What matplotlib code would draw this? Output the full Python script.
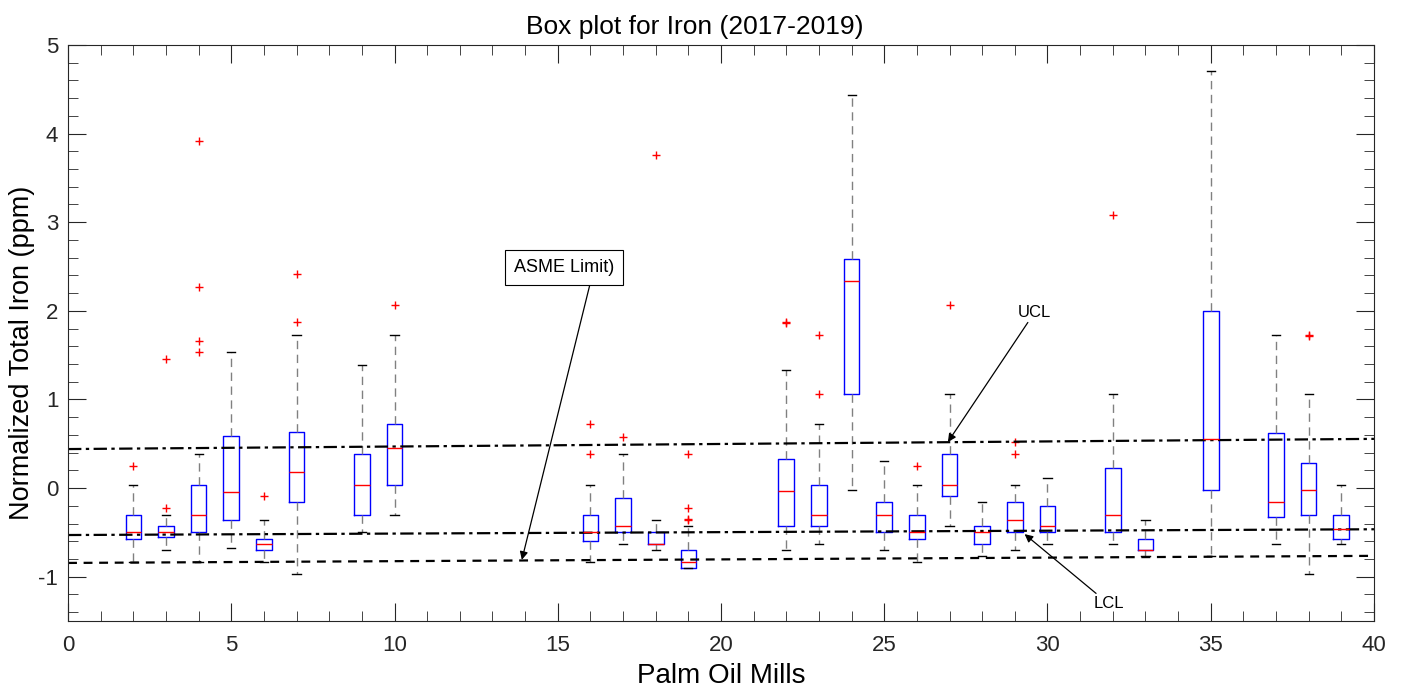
import numpy as np
import matplotlib.pyplot as plt
from matplotlib.ticker import MultipleLocator

plt.rcParams['font.family'] = ['Liberation Sans', 'DejaVu Sans']
plt.rcParams['axes.unicode_minus'] = False

# mill number and box statistics
mills = [2, 3, 4, 5, 6, 7, 9, 10, 16, 17, 18, 19, 22, 23, 24, 25, 26, 27,
         28, 29, 30, 32, 33, 35, 37, 38, 39]
whis_lo = [-0.84, -0.70, -0.84, -0.68, -0.84, -0.97, -0.50, -0.30, -0.84, -0.635,
           -0.70, -0.905, -0.70, -0.635, -0.026, -0.70, -0.84, -0.43,
           -0.77, -0.70, -0.635, -0.635, -0.77, -0.77, -0.635, -0.97, -0.635]
q1 = [-0.57, -0.55, -0.50, -0.36, -0.70, -0.16, -0.30, 0.04, -0.60, -0.50,
      -0.635, -0.905, -0.43, -0.43, 1.06, -0.50, -0.57, -0.094,
      -0.635, -0.50, -0.50, -0.50, -0.70, -0.026, -0.33, -0.30, -0.57]
med = [-0.50, -0.50, -0.30, -0.05, -0.635, 0.177, 0.04, 0.45, -0.50, -0.43,
       -0.635, -0.84, -0.03, -0.30, 2.34, -0.30, -0.50, 0.04,
       -0.50, -0.36, -0.43, -0.30, -0.70, 0.55, -0.16, -0.026, -0.466]
q3 = [-0.30, -0.43, 0.04, 0.59, -0.57, 0.635, 0.38, 0.72, -0.30, -0.11,
      -0.50, -0.70, 0.327, 0.04, 2.58, -0.16, -0.30, 0.38,
      -0.43, -0.16, -0.20, 0.23, -0.57, 2.0, 0.617, 0.28, -0.30]
whis_hi = [0.04, -0.30, 0.38, 1.53, -0.36, 1.73, 1.39, 1.73, 0.04, 0.38,
           -0.36, -0.43, 1.33, 0.72, 4.44, 0.31, 0.04, 1.06,
           -0.16, 0.04, 0.11, 1.06, -0.36, 4.71, 1.73, 1.06, 0.04]
outliers = [[0.245], [1.46, -0.23], [3.92, 2.27, 1.665, 1.53], [], [-0.094],
            [2.41, 1.87], [], [2.07], [0.72, 0.38], [0.58],
            [3.76], [0.38, -0.23, -0.35, -0.36], [1.87, 1.86], [1.73, 1.06], [], [], [0.245], [2.07],
            [], [0.515, 0.38], [], [3.08], [], [], [], [1.73, 1.72], []]

# control lines (value at x=0 and x=40)
line_x = [0, 40]
ucl = [0.44, 0.555]
lcl = [-0.53, -0.465]
asme = [-0.845, -0.765]

stats = []
for i in range(len(mills)):
    stats.append(dict(med=med[i], q1=q1[i], q3=q3[i], whislo=whis_lo[i],
                      whishi=whis_hi[i], fliers=outliers[i]))

fig = plt.figure(figsize=(14.03, 6.95), dpi=100)
ax = fig.add_axes([0.0485, 0.1065, 0.9308, 0.8288])

ax.bxp(stats, positions=mills, widths=0.48, showfliers=True,
       boxprops=dict(color='blue', linewidth=1.0),
       medianprops=dict(color='red', linewidth=1.0),
       whiskerprops=dict(color='#808080', linestyle=(0, (6, 4)), linewidth=1.0),
       capprops=dict(color='black', linewidth=1.0), capwidths=0.25,
       flierprops=dict(marker='+', markeredgecolor='red', markersize=6,
                       linestyle='none'),
       manage_ticks=False)

ax.plot(line_x, ucl, color='black', linestyle=(0, (6, 2, 1.5, 2)), linewidth=1.6)
ax.plot(line_x, lcl, color='black', linestyle=(0, (6, 2, 1.5, 2)), linewidth=1.6)
ax.plot(line_x, asme, color='black', linestyle=(0, (4, 3)), linewidth=1.6)

ax.set_xlim(0, 40)
ax.set_ylim(-1.5, 5)
ax.xaxis.set_major_locator(MultipleLocator(5))
ax.xaxis.set_minor_locator(MultipleLocator(1))
ax.yaxis.set_major_locator(MultipleLocator(1))
ax.yaxis.set_minor_locator(MultipleLocator(0.2))
ax.tick_params(which='both', direction='in', top=True, right=True,
               colors='#262626', labelsize=16)
ax.tick_params(which='major', length=13)
ax.tick_params(which='minor', length=7)
for s in ax.spines.values():
    s.set_color('#262626')
ax.tick_params(axis='x', pad=10)
ax.tick_params(axis='y', pad=7)

ax.set_title('Box plot for Iron (2017-2019)', fontsize=19, x=0.48, pad=8)
ax.set_xlabel('Palm Oil Mills', fontsize=20, labelpad=5)
ax.set_ylabel('Normalized Total Iron (ppm)', fontsize=19.5)
ax.yaxis.set_label_coords(-0.025, 0.465)

arrow = dict(arrowstyle='-|>', color='black', linewidth=0.9, mutation_scale=12,
             shrinkA=0, shrinkB=0)
ax.annotate('', xy=(13.9, -0.81), xytext=(16.0, 2.32), arrowprops=arrow)
ax.text(15.2, 2.49, 'ASME Limit)', fontsize=13, ha='center', va='center',
        bbox=dict(boxstyle='square,pad=0.5', facecolor='white', edgecolor='black',
                  linewidth=0.8))
ax.annotate('UCL', xy=(26.95, 0.52), xytext=(29.1, 1.9), fontsize=12,
            ha='left', va='bottom', arrowprops=arrow)
ax.annotate('LCL', xy=(29.3, -0.52), xytext=(31.4, -1.22), fontsize=12,
            ha='left', va='top', arrowprops=arrow)

fig.savefig('out.png', dpi=100)
